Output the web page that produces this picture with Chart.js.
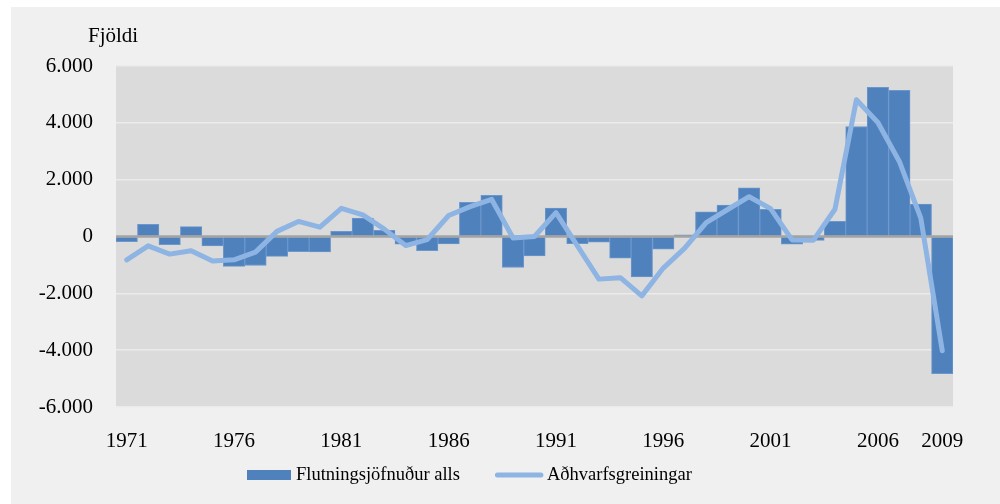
<!DOCTYPE html>
<html><head><meta charset="utf-8">
<script src="https://cdn.jsdelivr.net/npm/chart.js@4"></script>
<style>
html,body{margin:0;padding:0;background:#fff;width:1000px;height:504px;overflow:hidden}
#wrap{position:absolute;left:11px;top:7px;width:989px;height:497px;background:#f0f0f0}
canvas{display:block}
</style></head><body>
<div id="wrap"><canvas id="c" width="989" height="497"></canvas></div>
<script>
const years = ['1971','1972','1973','1974','1975','1976','1977','1978','1979','1980',
  '1981','1982','1983','1984','1985','1986','1987','1988','1989','1990',
  '1991','1992','1993','1994','1995','1996','1997','1998','1999','2000',
  '2001','2002','2003','2004','2005','2006','2007','2008','2009'];
const flutningsjofnudur = [-180,430,-290,350,-330,-1050,-1020,-700,-530,-540,
  180,650,220,-270,-500,-260,1200,1450,-1090,-680,
  1000,-250,-200,-760,-1420,-450,60,870,1110,1710,
  960,-270,-140,530,3870,5250,5140,1140,-4830];
const adhvarfsgreiningar = [-820,-330,-620,-500,-860,-820,-550,180,530,330,
  990,760,260,-320,-110,740,1050,1310,-50,0,
  840,-330,-1500,-1450,-2090,-1110,-410,490,950,1400,
  980,-120,-130,960,4810,4010,2640,650,-4020];
const xTickLabels = ['1971','1976','1981','1986','1991','1996','2001','2006','2009'];
const seriesNames = ['Flutningsjöfnuður alls','Aðhvarfsgreiningar'];
const yAxisTitle = 'Fjöldi';

const BAR = '#4f81bd', LINE = '#8db4e2';
const FONT = '"Liberation Serif", "Times New Roman", serif';

function fmt(v){
  const a = Math.abs(v).toString().replace(/\B(?=(\d{3})+(?!\d))/g,'.');
  return (v<0?'-':'') + a;
}

const bgPlugin = {
  id:'bg',
  beforeDraw(chart){
    const {ctx, chartArea:a} = chart;
    ctx.save(); ctx.fillStyle='#dbdbdb';
    ctx.fillRect(a.left, a.top, a.right-a.left, a.bottom-a.top);
    ctx.restore();
  }
};
const zeroPlugin = {
  id:'zero',
  afterDatasetDraw(chart, args){
    if (args.meta.type !== 'bar') return;
    const {ctx, chartArea:a} = chart;
    const y = chart.scales.y.getPixelForValue(0);
    ctx.save(); ctx.strokeStyle='#a3a3a3'; ctx.lineWidth=2.5;
    ctx.beginPath(); ctx.moveTo(a.left,y); ctx.lineTo(a.right,y); ctx.stroke();
    ctx.restore();
  }
};
const legendPlugin = {
  id:'customLegend',
  afterDraw(chart){
    const {ctx, chartArea:a} = chart;
    const cy = chart.height - 29;
    let x = a.left + 131;
    ctx.save();
    ctx.font = '18.5px ' + FONT;
    ctx.textBaseline = 'middle';
    ctx.fillStyle = BAR;
    ctx.fillRect(x, cy-5, 44, 10);
    ctx.fillStyle = '#000';
    ctx.fillText(seriesNames[0], x+49, cy);
    x = x + 49 + ctx.measureText(seriesNames[0]).width + 35;
    ctx.strokeStyle = LINE; ctx.lineWidth = 5; ctx.lineCap='round';
    ctx.beginPath(); ctx.moveTo(x+2.5, cy); ctx.lineTo(x+46, cy); ctx.stroke();
    ctx.fillText(seriesNames[1], x+52, cy);
    ctx.restore();
  }
};
const titlePlugin = {
  id:'ytitle',
  afterDraw(chart){
    const {ctx, chartArea:a} = chart;
    ctx.save();
    ctx.font = '21px ' + FONT; ctx.fillStyle='#000';
    ctx.textBaseline='middle'; ctx.textAlign='left';
    ctx.fillText(yAxisTitle, a.left-28, a.top-30);
    ctx.restore();
  }
};

new Chart(document.getElementById('c'), {
  type:'bar',
  data:{
    labels: years,
    datasets:[
      {type:'line', label:seriesNames[1], data:adhvarfsgreiningar, borderColor:LINE, backgroundColor:LINE,
       borderWidth:5, pointRadius:0, tension:0, borderCapStyle:'round', borderJoinStyle:'round', fill:false, order:0},
      {type:'bar', label:seriesNames[0], data:flutningsjofnudur, backgroundColor:BAR, borderColor:'#6b97cc',
       borderWidth:1, categoryPercentage:1, barPercentage:1, order:1}
    ]
  },
  options:{
    responsive:false, animation:false,
    layout:{padding:{left:0,right:47,top:59,bottom:47}},
    plugins:{legend:{display:false}, tooltip:{enabled:false}},
    scales:{
      x:{
        grid:{display:false, drawTicks:false}, border:{display:false},
        ticks:{autoSkip:false, maxRotation:0, minRotation:0, padding:22, color:'#000',
          font:{family:FONT, size:21},
          callback(v,i){ const y = years[i]; return xTickLabels.includes(y) ? y : ''; }},
        afterFit(s){ s.height = 50; }
      },
      y:{
        min:-6000, max:6000,
        ticks:{stepSize:2000, padding:23, color:'#000', font:{family:FONT, size:21}, callback(v){ return fmt(v); }},
        grid:{color:(c)=> c.tick && c.tick.value===0 ? 'rgba(0,0,0,0)' : '#ebebeb', lineWidth:1.5, drawTicks:false},
        border:{display:false},
        afterFit(s){ s.width = 105; }
      }
    }
  },
  plugins:[bgPlugin, zeroPlugin, legendPlugin, titlePlugin]
});
</script>
</body></html>
